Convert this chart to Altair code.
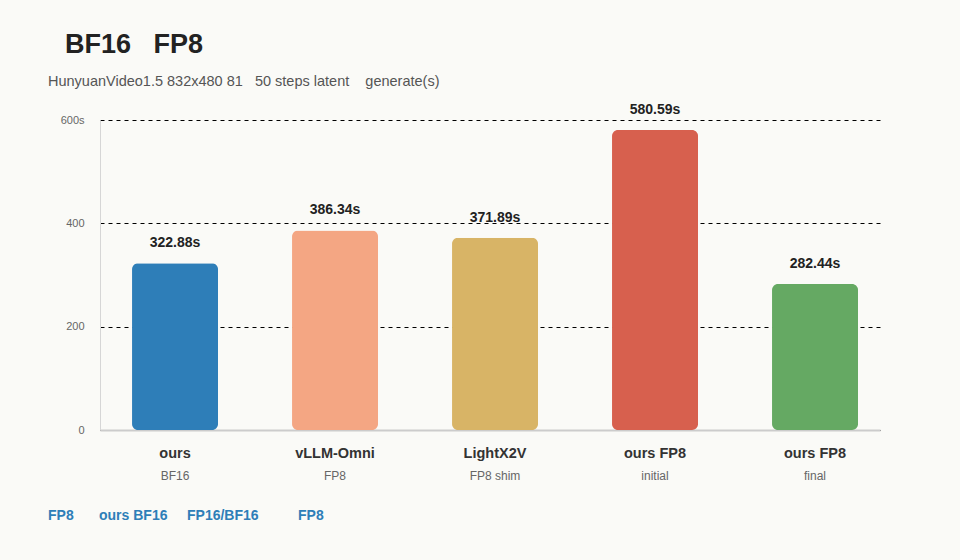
import altair as alt
import pandas as pd

NB = "\u00a0"
categories = ["ours", "vLLM-Omni", "LightX2V", "ours FP8", "ours FP8"]
subtitles = ["BF16", "FP8", "FP8 shim", "initial", "final"]
keys = ["ours|BF16", "vLLM-Omni|FP8", "LightX2V|FP8 shim", "ours FP8|initial", "ours FP8|final"]
values = [322.88, 386.34, 371.89, 580.59, 282.44]
colors = ["#2e7eb8", "#f4a683", "#d8b466", "#d7604e", "#65a963"]
y_ticks = [0, 200, 400, 600]
title_text = "BF16" + NB * 3 + "FP8"
subtitle_text = "HunyuanVideo1.5 832x480 81" + NB * 3 + "50 steps latent" + NB * 4 + "generate(s)"
footer_parts = ["FP8", "ours BF16", "FP16/BF16", "FP8"]
footer_x = [-52, -1, 87, 198]

df = pd.DataFrame({
    "key": keys,
    "cat": categories,
    "sub": subtitles,
    "value": values,
    "label": [f"{v:.2f}s" for v in values],
})

FONT = "Liberation Sans"
label_map = "{" + ",".join(f"'{k}':'{c}'" for k, c in zip(keys, categories)) + "}"

xscale = alt.Scale(domain=keys, paddingInner=0.4625, paddingOuter=0.16875, align=0.593)
yscale = alt.Scale(domain=[0, 600], nice=False)

x_enc = alt.X("key:N", scale=xscale, sort=keys, title=None,
              axis=alt.Axis(labelExpr=f"{label_map}[datum.value]", labelAngle=0,
                            labelFont=FONT, labelFontSize=14.5, labelFontWeight="bold",
                            labelColor="#333333", labelPadding=16, ticks=False,
                            domainColor="#cccccc", domainWidth=2, grid=False))

bars = alt.Chart(df).mark_bar(cornerRadius=6).encode(
    x=x_enc,
    y=alt.Y("value:Q", scale=yscale, title=None,
            axis=alt.Axis(values=y_ticks,
                          labelExpr="datum.value == 600 ? '600s' : datum.label",
                          labelFont=FONT, labelFontSize=11, labelColor="#666666",
                          labelPadding=16, ticks=False, domainColor="#d6d6d6",
                          grid=True, gridColor="#000000", gridDash=[4, 4],
                          gridWidth=1)),
    color=alt.Color("key:N", scale=alt.Scale(domain=keys, range=colors), legend=None),
)

value_text = alt.Chart(df).mark_text(
    font=FONT, fontSize=14, fontWeight="bold", color="#222222", dy=-16,
    baseline="alphabetic"
).encode(x=alt.X("key:N", scale=xscale, sort=keys), y=alt.Y("value:Q", scale=yscale),
         text="label:N")

sub_text = alt.Chart(df).mark_text(
    font=FONT, fontSize=12, color="#666666", baseline="middle"
).encode(x=alt.X("key:N", scale=xscale, sort=keys), y=alt.value(356), text="sub:N")

title_df = pd.DataFrame({"t": [title_text]})
title = alt.Chart(title_df).mark_text(
    font=FONT, fontSize=27, fontWeight="bold", color="#222222", align="left",
    baseline="alphabetic"
).encode(x=alt.value(-35), y=alt.value(-67), text="t:N")

subt_df = pd.DataFrame({"t": [subtitle_text]})
subt = alt.Chart(subt_df).mark_text(
    font=FONT, fontSize=14.5, color="#555555", align="left", baseline="alphabetic"
).encode(x=alt.value(-52), y=alt.value(-34), text="t:N")

footer_layers = []
for txt, fx in zip(footer_parts, footer_x):
    fdf = pd.DataFrame({"t": [txt]})
    footer_layers.append(alt.Chart(fdf).mark_text(
        font=FONT, fontSize=14, fontWeight="bold", color="#2e7eb8", align="left",
        baseline="alphabetic"
    ).encode(x=alt.value(fx), y=alt.value(400), text="t:N"))

chart = alt.layer(bars, value_text, sub_text, title, subt, *footer_layers).properties(
    width=780, height=310,
    autosize=alt.AutoSizeParams(type="none"),
    padding={"left": 100, "top": 120, "right": 80, "bottom": 130},
    background="#fafaf7",
).configure_view(stroke=None).configure_axis(domainOpacity=1)

chart.save("out.html", embed_options={"renderer": "svg", "actions": False})
